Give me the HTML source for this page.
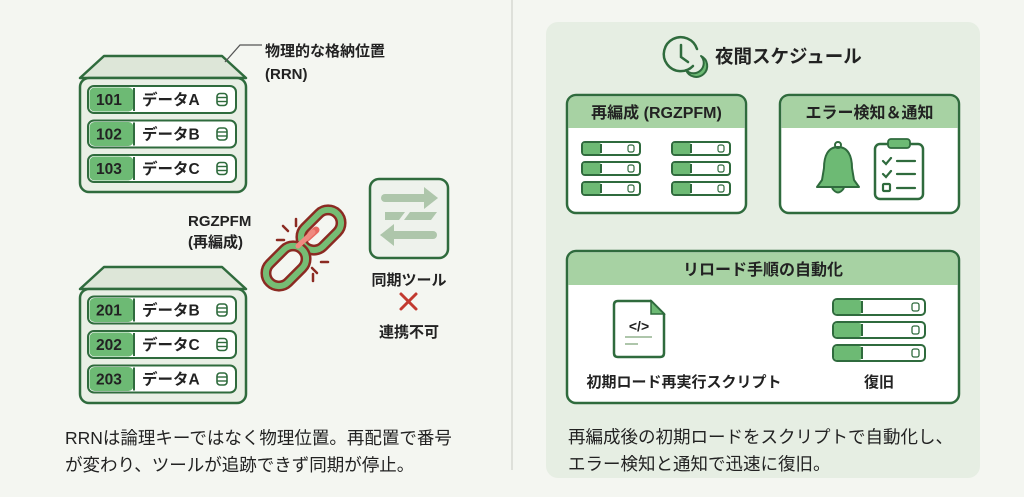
<!DOCTYPE html>
<html><head><meta charset="utf-8"><style>
html,body{margin:0;padding:0;width:1024px;height:497px;overflow:hidden;background:#f4f6f1}
svg{display:block}
text{font-family:"Liberation Sans","Noto Sans CJK JP",sans-serif;fill:#222}
</style></head><body>
<svg width="1024" height="497" viewBox="0 0 1024 497" xmlns="http://www.w3.org/2000/svg">
<defs>
<g id="db"><rect x="-5" y="-6" width="10" height="12" rx="3" fill="#fff" stroke="#2f6b3d" stroke-width="1.6"/><line x1="-5" y1="-2" x2="5" y2="-2" stroke="#2f6b3d" stroke-width="1.4"/><line x1="-5" y1="2" x2="5" y2="2" stroke="#2f6b3d" stroke-width="1.4"/></g>
<g id="mini"><rect x="0" y="0" width="58" height="13" rx="3" fill="#fff" stroke="#2f6b3d" stroke-width="2"/><rect x="1" y="1" width="18" height="11" rx="2" fill="#6dba74"/><line x1="19" y1="2" x2="19" y2="11" stroke="#2f6b3d" stroke-width="2"/><rect x="46" y="3" width="6" height="7" rx="2" fill="none" stroke="#2f6b3d" stroke-width="1.2"/></g>
<g id="big"><rect x="0" y="0" width="92" height="16" rx="4" fill="#fff" stroke="#2f6b3d" stroke-width="2"/><rect x="1" y="1" width="28" height="14" rx="3" fill="#6dba74"/><line x1="29" y1="2" x2="29" y2="14" stroke="#2f6b3d" stroke-width="2"/><rect x="79" y="4" width="7" height="8" rx="2" fill="none" stroke="#2f6b3d" stroke-width="1.3"/></g>
</defs>
<line x1="512" y1="0" x2="512" y2="470" stroke="#d6d9d3" stroke-width="1.5"/>

<!-- top server -->
<path d="M80 78 L104 56 L222 56 L246 78 Z" fill="#dde6d8" stroke="#2f6b3d" stroke-width="2.5" stroke-linejoin="round"/>
<rect x="80" y="78" width="166" height="114" rx="9" fill="#e9efe5" stroke="#2f6b3d" stroke-width="2.5"/>
<g id="r1">
<rect x="88" y="86" width="148" height="27" rx="6" fill="#fff" stroke="#2f6b3d" stroke-width="2"/>
<rect x="89.5" y="87.5" width="44" height="24" rx="5" fill="#6dba74"/>
<line x1="134" y1="88" x2="134" y2="111" stroke="#2f6b3d" stroke-width="2"/>
</g>
<use href="#r1" y="34.5"/><use href="#r1" y="69"/>
<g font-size="15.5" font-weight="bold">
<text x="96" y="105" fill="#1f4a28">101</text><text x="142" y="105">データA</text>
<text x="96" y="139.5" fill="#1f4a28">102</text><text x="142" y="139.5">データB</text>
<text x="96" y="174" fill="#1f4a28">103</text><text x="142" y="174">データC</text>
</g>
<use href="#db" x="222" y="99.5"/><use href="#db" x="222" y="134"/><use href="#db" x="222" y="168.5"/>
<polyline points="225,62 240,45 262,45" fill="none" stroke="#555" stroke-width="1.3"/>
<text x="265" y="56" font-size="15" font-weight="bold">物理的な格納位置</text>
<text x="265" y="79" font-size="15" font-weight="bold">(RRN)</text>

<!-- bottom server -->
<path d="M80 289 L104 267 L222 267 L246 289 Z" fill="#dde6d8" stroke="#2f6b3d" stroke-width="2.5" stroke-linejoin="round"/>
<rect x="80" y="289" width="166" height="114" rx="9" fill="#e9efe5" stroke="#2f6b3d" stroke-width="2.5"/>
<use href="#r1" y="210.5"/><use href="#r1" y="245"/><use href="#r1" y="279.5"/>
<g font-size="15.5" font-weight="bold">
<text x="96" y="315.5" fill="#1f4a28">201</text><text x="142" y="315.5">データB</text>
<text x="96" y="350" fill="#1f4a28">202</text><text x="142" y="350">データC</text>
<text x="96" y="384.5" fill="#1f4a28">203</text><text x="142" y="384.5">データA</text>
</g>
<use href="#db" x="222" y="310"/><use href="#db" x="222" y="344.5"/><use href="#db" x="222" y="379"/>

<!-- label & chain -->
<text x="188" y="226" font-size="15" font-weight="bold">RGZPFM</text>
<text x="188" y="247" font-size="15" font-weight="bold">(再編成)</text>
<line x1="296" y1="248" x2="316" y2="230" stroke="#e86a62" stroke-width="7" stroke-linecap="round"/>
<rect x="308" y="207" width="26" height="46" rx="13" transform="rotate(45 321 230)" fill="none" stroke="#8b2a22" stroke-width="11"/>
<rect x="308" y="207" width="26" height="46" rx="13" transform="rotate(45 321 230)" fill="none" stroke="#76bd74" stroke-width="6"/>
<rect x="273" y="243" width="26" height="46" rx="13" transform="rotate(45 286 266)" fill="none" stroke="#8b2a22" stroke-width="11"/>
<rect x="273" y="243" width="26" height="46" rx="13" transform="rotate(45 286 266)" fill="none" stroke="#76bd74" stroke-width="6"/>
<line x1="298" y1="246" x2="313" y2="232" stroke="#f08a80" stroke-width="5" stroke-linecap="round"/>
<g stroke="#8b2a22" stroke-width="2.5" stroke-linecap="round">
<line x1="283" y1="226" x2="288" y2="231"/><line x1="277" y1="240" x2="284" y2="240"/><line x1="296" y1="219" x2="296" y2="226"/>
<line x1="321" y1="262" x2="328" y2="262"/><line x1="312" y1="268" x2="317" y2="273"/><line x1="313" y1="274" x2="313" y2="281"/>
</g>

<!-- sync tool -->
<rect x="370" y="179" width="78" height="79" rx="9" fill="#eef2ec" stroke="#2f6b3d" stroke-width="2.5"/>
<g fill="#aec6ab">
<rect x="381" y="194" width="48" height="8" rx="4"/><path d="M424 187 L438 198 L424 209 Z"/>
<path d="M385 212 L405 212 L399 220 L385 220 Z"/><path d="M410 212 L437 212 L431 220 L404 220 Z"/>
<rect x="389" y="231" width="48" height="8" rx="4"/><path d="M394 224 L380 235 L394 246 Z"/>
</g>
<text x="409" y="285" font-size="15" font-weight="bold" text-anchor="middle">同期ツール</text>
<g stroke="#c2392f" stroke-width="3" stroke-linecap="round"><line x1="401" y1="294" x2="416" y2="309"/><line x1="416" y1="294" x2="401" y2="309"/></g>
<text x="409" y="337" font-size="15" font-weight="bold" text-anchor="middle">連携不可</text>

<text x="65" y="444" font-size="17.5">RRNは論理キーではなく物理位置。再配置で番号</text>
<text x="65" y="471" font-size="17.5">が変わり、ツールが追跡できず同期が停止。</text>

<!-- right panel -->
<rect x="546" y="22" width="434" height="456" rx="12" fill="#e6eee3"/>
<path d="M693 66 A17 17 0 1 1 697 49" fill="none" stroke="#2f6b3d" stroke-width="2.5" stroke-linecap="round"/>
<path d="M681 45 L681 57 L688 62" fill="none" stroke="#2f6b3d" stroke-width="2.5" stroke-linecap="round"/>
<path d="M701 56 A11 11 0 1 1 686 70 A9 9 0 0 0 701 56 Z" fill="#6dba74" stroke="#2f6b3d" stroke-width="2" stroke-linejoin="round"/>
<text x="715" y="63" font-size="18.5" font-weight="bold">夜間スケジュール</text>

<rect x="567" y="95" width="179" height="118" rx="9" fill="#fff" stroke="#2f6b3d" stroke-width="2.5"/>
<path d="M568.5 128 L568.5 104 Q568.5 96.5 576 96.5 L737 96.5 Q744.5 96.5 744.5 104 L744.5 128 Z" fill="#a7d2a3"/>
<text x="656.5" y="118" font-size="16" font-weight="bold" text-anchor="middle">再編成 (RGZPFM)</text>
<use href="#mini" x="582" y="142"/><use href="#mini" x="582" y="162"/><use href="#mini" x="582" y="182"/>
<use href="#mini" x="672" y="142"/><use href="#mini" x="672" y="162"/><use href="#mini" x="672" y="182"/>

<rect x="780" y="95" width="179" height="118" rx="9" fill="#fff" stroke="#2f6b3d" stroke-width="2.5"/>
<path d="M781.5 128 L781.5 104 Q781.5 96.5 789 96.5 L950 96.5 Q957.5 96.5 957.5 104 L957.5 128 Z" fill="#a7d2a3"/>
<text x="869.5" y="118" font-size="16" font-weight="bold" text-anchor="middle">エラー検知＆通知</text>
<path d="M838 147 C828 147 824 156 824 168 L822 180 L817 187 L859 187 L854 180 L852 168 C852 156 848 147 838 147 Z" fill="#6dba74" stroke="#2f6b3d" stroke-width="2" stroke-linejoin="round"/>
<circle cx="838" cy="145" r="3" fill="none" stroke="#2f6b3d" stroke-width="2"/>
<path d="M832 188 Q838 197 844 188" fill="#6dba74" stroke="#2f6b3d" stroke-width="2"/>
<rect x="875" y="144" width="48" height="55" rx="5" fill="#fff" stroke="#2f6b3d" stroke-width="2.5"/>
<rect x="888" y="139" width="22" height="9" rx="3" fill="#6dba74" stroke="#2f6b3d" stroke-width="1.8"/>
<g stroke="#2f6b3d" stroke-width="2.2" fill="none" stroke-linecap="round">
<path d="M883 161 L886 164 L891 158"/><line x1="897" y1="161" x2="915" y2="161"/>
<path d="M883 174 L886 177 L891 171"/><line x1="897" y1="174" x2="915" y2="174"/>
<rect x="883" y="184" width="7" height="7" rx="1"/><line x1="897" y1="188" x2="915" y2="188"/>
</g>

<rect x="567" y="251" width="392" height="152" rx="9" fill="#fff" stroke="#2f6b3d" stroke-width="2.5"/>
<path d="M568.5 285 L568.5 260 Q568.5 252.5 576 252.5 L950 252.5 Q957.5 252.5 957.5 260 L957.5 285 Z" fill="#a7d2a3"/>
<text x="763" y="275" font-size="16" font-weight="bold" text-anchor="middle">リロード手順の自動化</text>
<path d="M618 301 L651 301 L664 314 L664 353 Q664 357 660 357 L618 357 Q614 357 614 353 L614 305 Q614 301 618 301 Z" fill="#fff" stroke="#2f6b3d" stroke-width="2.5"/>
<path d="M651 301 L651 314 L664 314 Z" fill="#6dba74" stroke="#2f6b3d" stroke-width="1.5"/>
<text x="639" y="331" font-size="14" font-weight="bold" text-anchor="middle" fill="#2f6b3d">&lt;/&gt;</text>
<line x1="625" y1="337" x2="652" y2="337" stroke="#aec6ab" stroke-width="2"/>
<line x1="625" y1="344" x2="638" y2="344" stroke="#aec6ab" stroke-width="2"/>
<text x="684" y="387" font-size="15" font-weight="bold" text-anchor="middle">初期ロード再実行スクリプト</text>
<use href="#big" x="833" y="299"/><use href="#big" x="833" y="322"/><use href="#big" x="833" y="345"/>
<text x="879" y="387" font-size="15" font-weight="bold" text-anchor="middle">復旧</text>

<text x="568" y="443" font-size="17.5">再編成後の初期ロードをスクリプトで自動化し、</text>
<text x="568" y="470" font-size="17.5">エラー検知と通知で迅速に復旧。</text>
</svg>
</body></html>
